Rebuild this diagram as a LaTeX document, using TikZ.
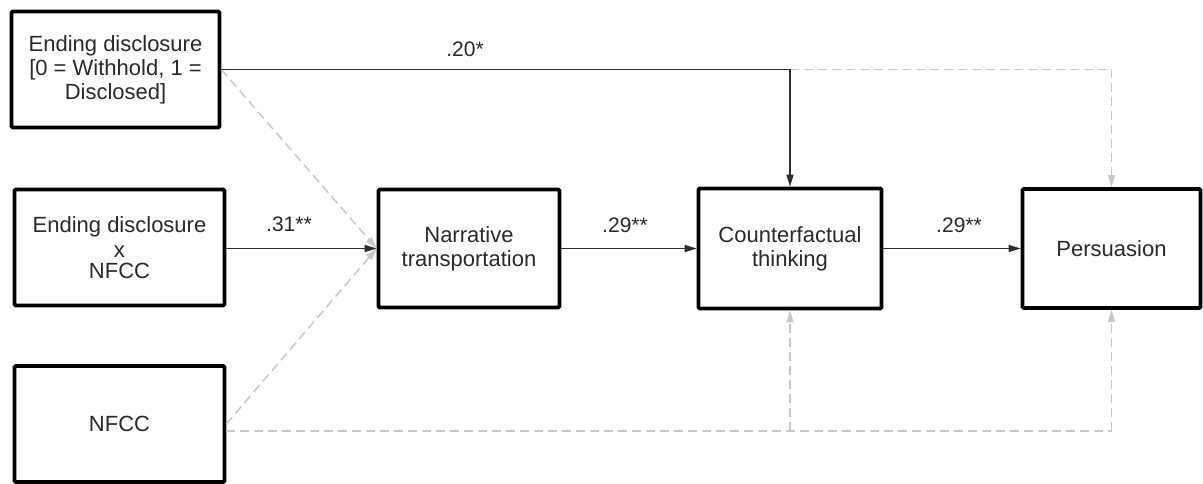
\documentclass[tikz,border=0pt]{standalone}
\usepackage{fontspec}
\setmainfont{Liberation Sans}
\usetikzlibrary{arrows.meta,calc}

\definecolor{inkdark}{HTML}{2A2A2A}
\definecolor{linedark}{HTML}{2E2E2E}
\definecolor{nsgray}{HTML}{C8C8C8}

\tikzset{
  varbox/.style={draw=black, line width=3.6pt, rounded corners=1.2pt, fill=white,
    align=center, text=inkdark, inner sep=0pt,
    font=\fontsize{22}{24}\selectfont},
  sigpath/.style={draw=linedark, line width=1.4pt,
    -{Triangle[length=12pt,width=7pt]}},
  sigline/.style={draw=linedark, line width=1.4pt},
  nspath/.style={draw=nsgray, line width=1.5pt, dash pattern=on 9pt off 5pt,
    -{Triangle[length=12pt,width=7pt]}},
  nsline/.style={draw=nsgray, line width=1.5pt, dash pattern=on 9pt off 5pt},
  coef/.style={text=inkdark, inner sep=0pt, anchor=base,
    font=\fontsize{21}{23}\selectfont}
}

\begin{document}
\begin{tikzpicture}[x=1pt, y=-1pt]
  \useasboundingbox (0,0) rectangle (1203,484);

  % predictors
  \node[varbox, minimum width=208pt, minimum height=116pt] (disc) at (115.5,69.5)
    {Ending disclosure\\{[}0 = Withhold, 1 =\\Disclosed]};
  \node[varbox, minimum width=210pt, minimum height=116pt] (inter) at (119.5,247.5)
    {Ending disclosure\\[1pt]x\\[-3pt]NFCC};
  \node[varbox, minimum width=210pt, minimum height=116pt] (nfcc) at (119.5,424)
    {NFCC};

  % mediators and outcome
  \node[varbox, minimum width=181pt, minimum height=118pt] (narr) at (469,248.5)
    {Narrative\\transportation};
  \node[varbox, minimum width=183pt, minimum height=120pt] (cf) at (790,248.5)
    {Counterfactual\\thinking};
  \node[varbox, minimum width=178pt, minimum height=119pt] (pers) at (1111.5,248.5)
    {Persuasion};

  % junction points of the routed paths
  \coordinate (topj) at (disc.east -| cf.north);
  \coordinate (nfccout) at ($(nfcc.east)+(0,7)$);
  \coordinate (botj) at (nfccout -| cf.south);

  % non-significant paths
  \draw[nspath] (disc.east) -- (narr.west);
  \draw[nspath] (nfcc.east) -- (narr.west);
  \draw[nsline] (topj) -- (topj -| pers.north);
  \draw[nspath] (topj -| pers.north) -- (pers.north);
  \draw[nsline] (nfccout) -- (nfccout -| pers.south);
  \draw[nspath] (botj) -- (cf.south);
  \draw[nspath] (nfccout -| pers.south) -- (pers.south);

  % significant paths
  \draw[sigline] (disc.east) -- (topj);
  \draw[sigpath] (topj) -- (cf.north);
  \draw[sigpath] (inter.east |- narr.west) -- (narr.west);
  \draw[sigpath] (narr.east) -- (cf.west);
  \draw[sigpath] (cf.east) -- (pers.west);

  % coefficients
  \node[coef] (c1) at (465,57) {.20*};
  \node[coef] (c2) at (289,232) {.31**};
  \node[coef] (c3) at (625,233) {.29**};
  \node[coef] (c4) at (959,233) {.29**};
\end{tikzpicture}
\end{document}
